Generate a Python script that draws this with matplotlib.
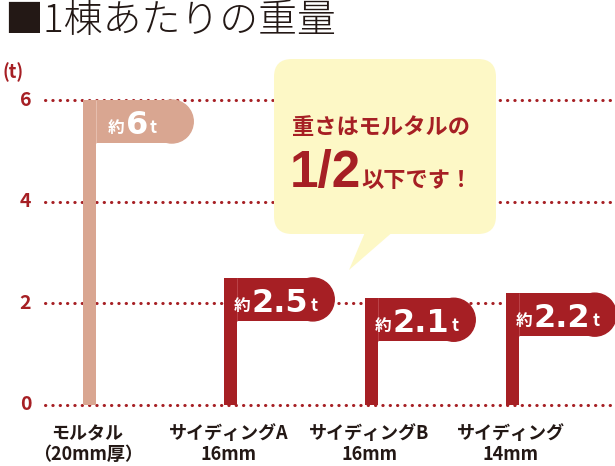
import matplotlib
matplotlib.use("Agg")
import matplotlib.pyplot as plt
from matplotlib.patches import Ellipse, FancyBboxPatch, Polygon

plt.rcParams["font.family"] = ["Noto Sans CJK JP", "DejaVu Sans"]

# data
categories = ["モルタル\n（20mm厚）", "サイディングA\n16mm", "サイディングB\n16mm", "サイディング\n14mm"]
weights = [6.0, 2.5, 2.1, 2.2]
weight_labels = ["6", "2.5", "2.1", "2.2"]
yticks = [0, 2, 4, 6]

MORTAR = "#d9a691"
SIDING = "#a61f24"
RED = "#a61f24"
INK = "#231815"
colors = [MORTAR, SIDING, SIDING, SIDING]
edge_colors = ["#e9c3b4", "#bf4a4f", "#bf4a4f", "#bf4a4f"]

W, H = 615, 466
fig = plt.figure(figsize=(W / 100, H / 100), dpi=100)

# chart axes: pixel layout -> pole centres every 141 px from 89.5, 50.83 px per tonne
ax = fig.add_axes([0, 0, 1, 1])
ax.set_xlim(-89.5 / 141, (W - 89.5) / 141)
ax.set_ylim(-61 / 50.83, 405 / 50.83)
ax.axis("off")

px_x = 1 / 141      # one pixel in x data units
px_y = 1 / 50.83    # one pixel in y data units

# dotted grid lines
x_start = -44 * px_x
ax.hlines(yticks, x_start, ax.get_xlim()[1], colors=RED, linewidth=2.2,
          linestyles=(0, (0.1, 2.3)), capstyle="round", zorder=1)
for v in yticks:
    ax.annotate(str(v), xy=(x_start, v), xytext=(-20, 0), textcoords="offset pixels",
                ha="center", va="center", fontsize=14, fontweight="bold", color=RED)
ax.annotate("(t)", xy=(x_start, yticks[-1]), xytext=(-32, 28), textcoords="offset pixels",
            ha="center", va="center", fontsize=13, fontweight="bold", color=RED)

# poles + flags
pole_w = 12.5 * px_x
flag_len = 110 * px_x
flag_h = 43 * px_y
rad_x = 21.5 * px_x
xs = list(range(len(categories)))
ax.bar(xs, weights, width=pole_w, color=colors, zorder=2)
for x, v, c, ec, lab in zip(xs, weights, colors, edge_colors, weight_labels):
    left = x - pole_w / 2
    ax.bar(left, flag_h, bottom=v - flag_h, width=flag_len - rad_x, align="edge",
           color=c, zorder=2)
    ax.add_patch(Ellipse((left + flag_len - rad_x, v - flag_h / 2), 2 * rad_x, flag_h,
                         color=c, zorder=2))
    ax.vlines(left + pole_w, v - flag_h, v, colors=ec, linewidth=0.6, zorder=3)
    big = lab == "6"
    t1 = ax.annotate("約", xy=(left, v - flag_h), xytext=(24 if big else 9, 10),
                     textcoords="offset pixels", ha="left", va="baseline",
                     fontsize=12, fontweight="bold", color="white", zorder=4)
    t2 = ax.annotate(lab, xy=(1, v - flag_h), xycoords=(t1, "data"), xytext=(2, 9),
                     textcoords="offset pixels", ha="left", va="baseline",
                     fontsize=23, fontweight="bold", color="white", zorder=4,
                     family="DejaVu Sans")
    ax.annotate("t", xy=(1, v - flag_h), xycoords=(t2, "data"), xytext=(2, 10),
                textcoords="offset pixels", ha="left", va="baseline",
                fontsize=12, fontweight="bold", color="white", zorder=4)

# category labels
for x, cat in zip(xs, categories):
    ax.annotate(cat, xy=(x, 0), xytext=(-2, -19), textcoords="offset pixels",
                ha="center", va="top", fontsize=13, fontweight="bold", color=INK,
                linespacing=1.1)

# overlay in pixel coordinates: title + speech bubble
ov = fig.add_axes([0, 0, 1, 1], zorder=5)
ov.set_xlim(0, W)
ov.set_ylim(H, 0)
ov.axis("off")
ov.patch.set_alpha(0)

ov.text(4, 21, "■1棟あたりの重量", ha="left", va="center", fontsize=28,
        color=INK, fontweight="light")

BUBBLE = "#fdf8c6"
ov.add_patch(FancyBboxPatch((274, 59), 222, 175, boxstyle="round,pad=0,rounding_size=18",
                            facecolor=BUBBLE, edgecolor="none"))
ov.add_patch(Polygon([(366, 230), (395, 230), (349, 270)], closed=True,
                     facecolor=BUBBLE, edgecolor="none"))
ov.text(381, 128, "重さはモルタルの", ha="center", va="center", fontsize=16,
        fontweight="bold", color=RED)
b1 = ov.text(290, 187, "1/2", ha="left", va="baseline", fontsize=37,
             fontweight="bold", color=RED, family=["Liberation Sans", "DejaVu Sans"])
ov.annotate("以下です！", xy=(1, 187), xycoords=(b1, "data"), xytext=(0, 0),
            textcoords="offset pixels", ha="left", va="baseline", fontsize=16,
            fontweight="bold", color=RED)

fig.savefig("out.png", dpi=100)
